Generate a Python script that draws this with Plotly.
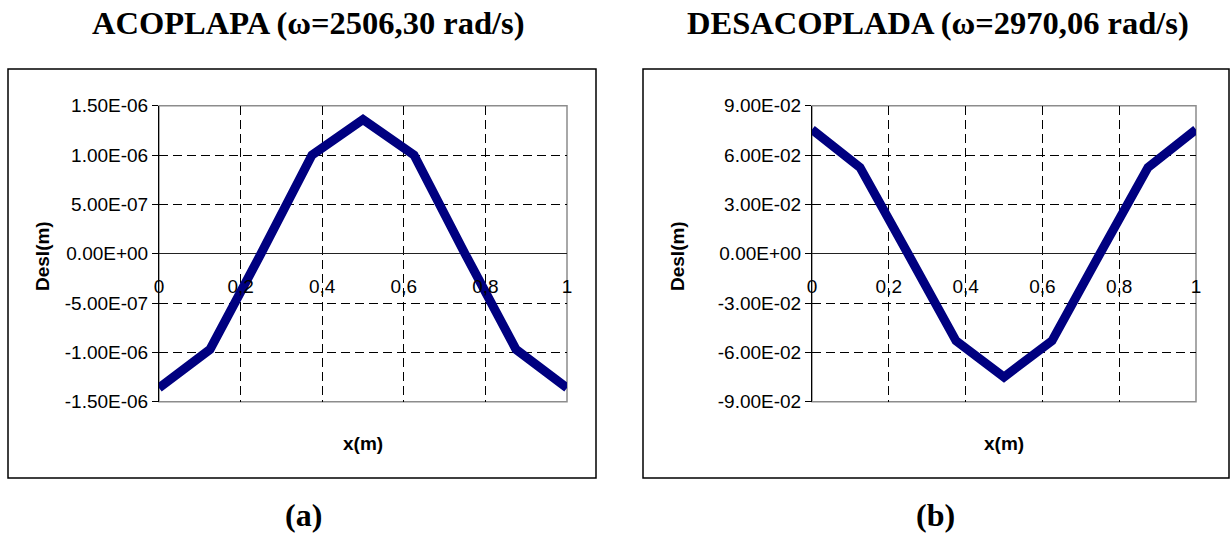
import plotly.graph_objects as go

W, H = 1230, 543

# ---------------- data ----------------
x_pos = [0.0, 0.125, 0.25, 0.375, 0.5, 0.625, 0.75, 0.875, 1.0]
desl_acoplada = [-1.36e-06, -0.97e-06, 0.0, 1.0e-06, 1.36e-06, 1.0e-06, 0.0, -0.97e-06, -1.36e-06]
desl_desacoplada = [7.55e-02, 5.25e-02, 0.0, -5.3e-02, -7.5e-02, -5.3e-02, 0.0, 5.25e-02, 7.55e-02]

x_ticks = [0, 0.2, 0.4, 0.6, 0.8, 1]
x_ticktext = ["0", "0,2", "0,4", "0,6", "0,8", "1"]

y1_ticks = [-1.5e-06, -1.0e-06, -5.0e-07, 0.0, 5.0e-07, 1.0e-06, 1.5e-06]
y1_ticktext = ["-1.50E-06", "-1.00E-06", "-5.00E-07", "0.00E+00", "5.00E-07", "1.00E-06", "1.50E-06"]
y2_ticks = [-9e-02, -6e-02, -3e-02, 0.0, 3e-02, 6e-02, 9e-02]
y2_ticktext = ["-9.00E-02", "-6.00E-02", "-3.00E-02", "0.00E+00", "3.00E-02", "6.00E-02", "9.00E-02"]

titles = ["ACOPLAPA (\u03c9=2506,30 rad/s)", "DESACOPLADA (\u03c9=2970,06 rad/s)"]
captions = ["(a)", "(b)"]

# ---------------- layout helpers ----------------
def px(x):
    return x / W

def py(y):
    return (H - y) / H

SANS = "Liberation Sans, Arial, sans-serif"
SERIF = "Liberation Serif, Times New Roman, serif"
NAVY = "#000080"
GRID = dict(showgrid=True, griddash="9px,5px", gridcolor="#000000", gridwidth=1)

fig = go.Figure()
fig.add_trace(go.Scatter(x=x_pos, y=desl_acoplada, mode="lines",
                         line=dict(color=NAVY, width=9), xaxis="x", yaxis="y",
                         showlegend=False))
fig.add_trace(go.Scatter(x=x_pos, y=desl_desacoplada, mode="lines",
                         line=dict(color=NAVY, width=9), xaxis="x2", yaxis="y2",
                         showlegend=False))

plots = [  # (plot left, plot right) in px
    (159, 567),
    (812, 1196),
]
boxes = [(8, 596), (643, 1229)]
plot_top, plot_bot = 105.7, 401.7
box_top, box_bot = 69, 478
zero_y = 253

def xaxis_cfg(dom):
    return dict(domain=[px(dom[0]), px(dom[1])], range=[0, 1], anchor="free",
                position=py(zero_y), tickmode="array", tickvals=x_ticks,
                ticktext=x_ticktext, showgrid=False, zeroline=False, showline=False,
                automargin=False,
                ticks="outside", ticklen=16, tickcolor="rgba(0,0,0,0)",
                tickfont=dict(family=SANS, size=19, color="#000"),
                minor=dict(tickmode="array", tickvals=x_ticks[1:-1], ticks="", **GRID))

def yaxis_cfg(ticks, text, anchor):
    rng = [ticks[0], ticks[-1]]
    minors = [t for t in ticks[1:-1] if t != 0.0]
    return dict(domain=[py(plot_bot), py(plot_top)], range=rng, anchor=anchor,
                tickmode="array", tickvals=ticks, ticktext=text, showgrid=False,
                automargin=False,
                zeroline=True, zerolinecolor="#222222", zerolinewidth=1,
                showline=True, linecolor="#000", linewidth=1,
                ticks="outside", ticklen=6, tickcolor="#000",
                tickfont=dict(family=SANS, size=19, color="#000"),
                minor=dict(tickmode="array", tickvals=minors, ticks="", **GRID))

fig.update_layout(
    template="none",
    width=W, height=H, margin=dict(l=0, r=0, t=0, b=0, autoexpand=False),
    paper_bgcolor="white", plot_bgcolor="white", showlegend=False,
    xaxis=xaxis_cfg(plots[0]), xaxis2=xaxis_cfg(plots[1]),
    yaxis=yaxis_cfg(y1_ticks, y1_ticktext, "x"),
    yaxis2=yaxis_cfg(y2_ticks, y2_ticktext, "x2"),
)

shapes = []
annotations = []
title_x = [308.5, 938]
caption_x = [303, 935]
for i, (b, p) in enumerate(zip(boxes, plots)):
    xr = "x" if i == 0 else "x2"
    yr = "y" if i == 0 else "y2"
    # outer chart box
    shapes.append(dict(type="rect", xref="paper", yref="paper",
                       x0=px(b[0]), x1=px(b[1]), y0=py(box_bot), y1=py(box_top),
                       line=dict(color="#000", width=1.5), layer="below"))
    # plot-area border (gray)
    shapes.append(dict(type="rect", xref=xr + " domain", yref=yr + " domain",
                       x0=0, x1=1, y0=0, y1=1,
                       line=dict(color="#8c8c8c", width=1.5), layer="below"))
    # titles
    annotations.append(dict(text="<b>%s</b>" % titles[i], xref="paper", yref="paper",
                            x=px(title_x[i]), y=py(23), xanchor="center",
                            yanchor="middle", showarrow=False,
                            font=dict(family=SERIF, size=32.5, color="#000")))
    # captions
    annotations.append(dict(text="<b>%s</b>" % captions[i], xref="paper", yref="paper",
                            x=px(caption_x[i]), y=py(515), xanchor="center",
                            yanchor="middle", showarrow=False,
                            font=dict(family=SERIF, size=32, color="#000")))
    # axis titles
    annotations.append(dict(text="<b>x(m)</b>", xref="paper", yref="paper",
                            x=px((p[0] + p[1]) / 2), y=py(443), xanchor="center",
                            yanchor="middle", showarrow=False,
                            font=dict(family=SANS, size=19, color="#000")))
    annotations.append(dict(text="<b>Desl(m)</b>", xref="paper", yref="paper",
                            x=px(b[0] + 34), y=py(256), xanchor="center",
                            yanchor="middle", showarrow=False, textangle=-90,
                            font=dict(family=SANS, size=19, color="#000")))

fig.update_layout(shapes=shapes, annotations=annotations)
fig.write_html("out.html", config={"displayModeBar": False},
               post_script="document.body.style.margin='0';document.body.style.overflow='hidden';")
